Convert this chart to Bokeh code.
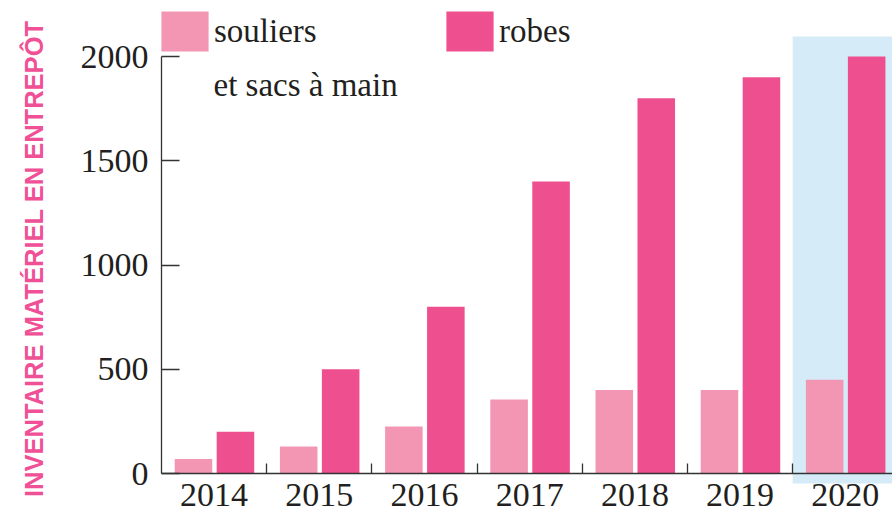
import math
from bokeh.plotting import figure
from bokeh.models import (Range1d, LinearAxis, FixedTicker, BoxAnnotation, Legend,
                          LegendItem, Label, ColumnDataSource)
from bokeh.transform import dodge
from bokeh.embed import file_html
from bokeh.resources import INLINE

# ---------------- data ----------------
years = [2014, 2015, 2016, 2017, 2018, 2019, 2020]
year_labels = ["2014", "2015", "2016", "2017", "2018", "2019", "2020"]
souliers = [70, 130, 225, 355, 400, 400, 450]
robes = [200, 500, 800, 1400, 1800, 1900, 2000]
y_ticks = [0, 500, 1000, 1500, 2000]
highlight_year = 2020
series_labels = ["souliers", "robes"]
souliers_second_line = "et sacs à main"
y_title = "INVENTAIRE MATÉRIEL EN ENTREPÔT"

# ---------------- styling / layout ----------------
LIGHT = "#F396B4"
DARK = "#EE4F8F"
BLUE = "#D5ECF8"
TITLE_PINK = "#EF5096"
INK = "#231F20"
AXIS = "#333333"
SERIF = "Liberation Serif"

W, H = 892, 511
PX_YEAR = 105.2      # pixels per year group
PX_UNIT = 0.2085     # pixels per inventory unit
ORIGIN_X = 161       # axis origin inside figure (px from left)
ORIGIN_Y = 473       # axis origin inside figure (px from top)

first_edge = years[0] - 0.5
x_start = first_edge - ORIGIN_X / PX_YEAR
x_end = first_edge + (W - ORIGIN_X) / PX_YEAR
y_start = -(H - ORIGIN_Y) / PX_UNIT
y_end = ORIGIN_Y / PX_UNIT

bar_w = 0.357
light_off = -0.196
dark_off = 0.203

src = ColumnDataSource(dict(year=years, souliers=souliers, robes=robes))

p = figure(width=W, height=H, output_backend="svg", toolbar_location=None,
           x_range=Range1d(x_start, x_end), y_range=Range1d(y_start, y_end),
           x_axis_type=None, y_axis_type=None, min_border=0)
p.outline_line_color = None
p.background_fill_color = "white"

# highlight of the last year
hl = BoxAnnotation(left=highlight_year - 0.5, bottom=-48, top=2096,
                   fill_color=BLUE, fill_alpha=1, line_color=None, level="underlay")
p.add_layout(hl)

r1 = p.vbar(x=dodge("year", light_off), top="souliers", bottom=0, width=bar_w,
            source=src, fill_color=LIGHT, line_color=None)
r2 = p.vbar(x=dodge("year", dark_off), top="robes", bottom=0, width=bar_w,
            source=src, fill_color=DARK, line_color=None)

# x axis: line + boundary ticks
xa = LinearAxis(fixed_location=0, ticker=FixedTicker(ticks=[y + 0.5 for y in years[:-1]]),
                bounds=(first_edge, x_end))
xa.axis_line_color = AXIS
xa.axis_line_width = 1.3
xa.major_tick_line_color = AXIS
xa.major_tick_line_width = 1.3
xa.major_tick_in = 10
xa.major_tick_out = 0
xa.minor_tick_line_color = None
xa.major_label_text_color = None
xa.major_label_text_font_size = "0px"
p.add_layout(xa, "below")

# x axis: year labels
xl = LinearAxis(fixed_location=0, ticker=FixedTicker(ticks=years),
                major_label_overrides={y: l for y, l in zip(years, year_labels)})
xl.axis_line_color = None
xl.major_tick_line_color = None
xl.minor_tick_line_color = None
xl.major_tick_in = 0
xl.major_tick_out = 0
xl.major_label_standoff = 10
xl.major_label_text_font = SERIF
xl.major_label_text_font_size = "34px"
xl.major_label_text_color = INK
p.add_layout(xl, "below")

# y axis
ya = LinearAxis(fixed_location=first_edge, ticker=FixedTicker(ticks=y_ticks),
                bounds=(y_ticks[0], y_ticks[-1]))
ya.axis_line_color = AXIS
ya.axis_line_width = 1.3
ya.major_tick_line_color = AXIS
ya.major_tick_line_width = 1.3
ya.major_tick_in = 18
ya.major_tick_out = 0
ya.minor_tick_line_color = None
ya.major_label_standoff = 13
ya.major_label_text_font = SERIF
ya.major_label_text_font_size = "34px"
ya.major_label_text_color = INK
p.add_layout(ya, "left")

# legend
legend = Legend(items=[LegendItem(label=series_labels[0], renderers=[r1]),
                       LegendItem(label=series_labels[1], renderers=[r2])],
                orientation="horizontal", location=(155, 455),
                glyph_width=59, glyph_height=50, label_standoff=0,
                spacing=0, label_width=226, padding=0, margin=0,
                border_line_color=None, background_fill_alpha=0,
                label_text_font=SERIF, label_text_font_size="33px",
                label_text_color=INK)
p.add_layout(legend)

p.add_layout(Label(x=213, y=427, x_units="screen", y_units="screen",
                   text=souliers_second_line, text_font=SERIF, text_font_size="33px",
                   text_color=INK, text_baseline="alphabetic", text_align="left"))

# vertical axis title
p.add_layout(Label(x=33, y=491, x_units="screen", y_units="screen", angle=math.pi / 2,
                   text=y_title, text_font="Liberation Sans", text_font_style="bold",
                   text_font_size="25.5px", text_color=TITLE_PINK,
                   text_align="right", text_baseline="alphabetic"))

open("out.html", "w").write(file_html(p, INLINE))
